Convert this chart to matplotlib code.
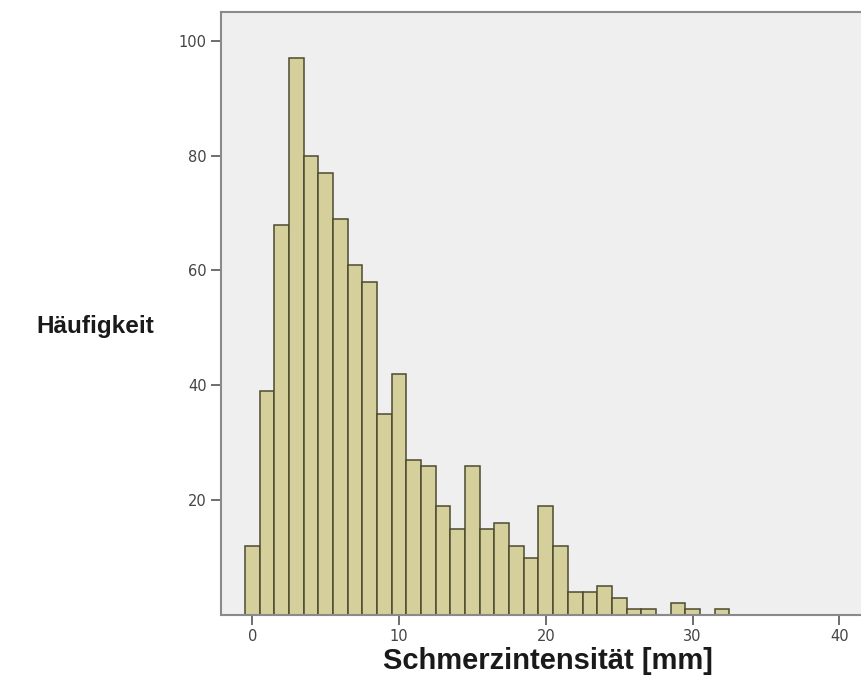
import matplotlib
matplotlib.use("Agg")
import matplotlib.pyplot as plt

values = list(range(0, 33))
counts = [12, 39, 68, 97, 80, 77, 69, 61, 58, 35, 42, 27, 26, 19, 15, 26, 15, 16,
          12, 10, 19, 12, 4, 4, 5, 3, 1, 1, 0, 2, 1, 0, 1]
xticks = [0, 10, 20, 30, 40]
yticks = [20, 40, 60, 80, 100]

fig = plt.figure(figsize=(8.62, 6.81), dpi=100)
ax = fig.add_axes([0.256, 0.097, 0.745, 0.886])
ax.set_facecolor("#efefef")

ax.bar(values, counts, width=1.0, color="#d5cf9c", edgecolor="#4d4a30", linewidth=1.1)

ax.set_xlim(-2.15, 41.6)
ax.set_ylim(0, 105.1)
ax.set_xticks(xticks)
ax.set_yticks(yticks)
ax.tick_params(axis="both", direction="out", length=7, width=1.2, color="#555555",
               labelsize=10.5, labelcolor="#444444", pad=3)
for side in ["left", "bottom", "top"]:
    ax.spines[side].set_color("#8a8a8a")
    ax.spines[side].set_linewidth(1.5)
ax.spines["right"].set_visible(False)

fig.text(95/862, 1 - 327/681, "Häufigkeit", fontsize=17.5, fontweight="bold",
         family="Liberation Sans", ha="center", va="center", color="#1a1a1a")
fig.text(548/862, 1 - 661/681, "Schmerzintensität [mm]", fontsize=21, fontweight="bold",
         family="Liberation Sans", ha="center", va="center", color="#1a1a1a")

fig.savefig("out.png", dpi=100)
